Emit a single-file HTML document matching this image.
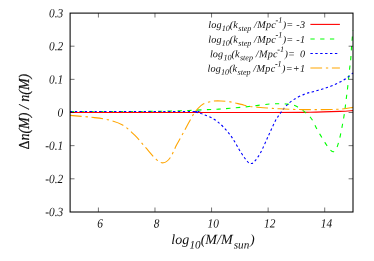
<!DOCTYPE html><html><head><meta charset="utf-8"><style>html,body{margin:0;padding:0;background:#fff}body{width:374px;height:261px;overflow:hidden;position:relative;font-family:"Liberation Serif",serif}</style></head><body><svg width="374" height="261" viewBox="0 0 374 261" style="position:absolute;left:0;top:0;will-change:transform">
<g fill="none" stroke-width="1.1" stroke-linejoin="round">
<path d="M70.00 112.45 C103.33 112.46 230.00 112.53 270.00 112.50 C310.00 112.47 298.33 112.48 310.00 112.30 C321.67 112.12 332.83 111.68 340.00 111.40 C347.17 111.12 350.83 110.73 353.00 110.60" stroke="#ff0000"/>
<path d="M70.00 111.55 C83.33 111.53 133.33 111.48 150.00 111.40 C166.67 111.33 163.50 111.25 170.00 111.10 C176.50 110.95 183.00 110.73 189.00 110.50 C195.00 110.27 201.33 109.92 206.00 109.70 C210.67 109.48 213.00 109.43 217.00 109.20 C221.00 108.97 224.67 108.75 230.00 108.30 C235.33 107.85 242.33 107.22 249.00 106.50 C255.67 105.78 263.83 104.42 270.00 104.00 C276.17 103.58 281.53 103.57 286.00 104.00 C290.47 104.43 292.80 104.47 296.80 106.60 C300.80 108.73 306.57 112.90 310.00 116.80 C313.43 120.70 314.90 125.70 317.40 130.00 C319.90 134.30 322.90 139.33 325.00 142.60 C327.10 145.87 328.67 148.08 330.00 149.60 C331.33 151.12 332.07 151.63 333.00 151.70 C333.93 151.77 334.83 151.02 335.60 150.00 C336.37 148.98 336.87 147.77 337.60 145.60 C338.33 143.43 339.20 140.43 340.00 137.00 C340.80 133.57 341.67 128.92 342.40 125.00 C343.13 121.08 343.78 117.67 344.40 113.50 C345.02 109.33 345.55 104.42 346.10 100.00 C346.65 95.58 347.10 92.33 347.70 87.00 C348.30 81.67 349.20 72.58 349.70 68.00 C350.20 63.42 350.42 62.67 350.70 59.50 C350.98 56.33 351.17 52.25 351.40 49.00 C351.63 45.75 351.87 43.08 352.10 40.00 C352.33 36.92 352.68 32.08 352.80 30.50" stroke="#00ff00" stroke-dasharray="4.3 5.47"/>
<path d="M70.00 111.55 C90.00 111.55 169.33 111.51 190.00 111.55 C210.67 111.59 191.73 111.31 194.00 111.80 C196.27 112.29 199.77 112.93 203.60 114.50 C207.43 116.07 212.53 117.75 217.00 121.20 C221.47 124.65 226.40 129.97 230.40 135.20 C234.40 140.43 238.08 148.13 241.00 152.60 C243.92 157.07 246.23 160.18 247.90 162.00 C249.57 163.82 249.98 163.50 251.00 163.50 C252.02 163.50 252.43 163.75 254.00 162.00 C255.57 160.25 257.98 157.40 260.40 153.00 C262.82 148.60 266.00 140.97 268.50 135.60 C271.00 130.23 273.37 124.60 275.40 120.80 C277.43 117.00 278.93 115.27 280.70 112.80 C282.47 110.33 283.78 108.23 286.00 106.00 C288.22 103.77 290.85 101.40 294.00 99.40 C297.15 97.40 301.90 95.23 304.90 94.00 C307.90 92.77 309.77 92.63 312.00 92.00 C314.23 91.37 316.13 90.83 318.30 90.20 C320.47 89.57 322.72 88.93 325.00 88.20 C327.28 87.47 329.50 86.83 332.00 85.80 C334.50 84.77 337.50 83.33 340.00 82.00 C342.50 80.67 344.83 79.30 347.00 77.80 C349.17 76.30 352.00 73.80 353.00 73.00" stroke="#0000ff" stroke-dasharray="2.4 2.5"/>
<path d="M70.00 115.40 C73.63 115.72 85.48 116.58 91.80 117.30 C98.12 118.02 102.77 118.42 107.90 119.70 C113.03 120.98 118.13 122.42 122.60 125.00 C127.07 127.58 130.90 131.48 134.70 135.20 C138.50 138.92 141.82 143.28 145.40 147.30 C148.98 151.32 153.20 156.72 156.20 159.30 C159.20 161.88 161.10 163.02 163.40 162.80 C165.70 162.58 167.77 161.03 170.00 158.00 C172.23 154.97 174.32 149.28 176.80 144.60 C179.28 139.92 182.22 134.82 184.90 129.90 C187.58 124.98 190.90 118.47 192.90 115.10 C194.90 111.73 195.12 111.58 196.90 109.70 C198.68 107.82 200.92 105.22 203.60 103.80 C206.28 102.38 210.10 101.67 213.00 101.20 C215.90 100.73 218.10 100.83 221.00 100.95 C223.90 101.07 227.03 101.33 230.40 101.90 C233.77 102.48 238.07 103.67 241.20 104.40 C244.33 105.13 246.00 105.78 249.20 106.30 C252.40 106.82 256.93 107.18 260.40 107.50 C263.87 107.82 266.87 107.98 270.00 108.20 C273.13 108.42 273.87 108.57 279.20 108.80 C284.53 109.03 292.37 109.52 302.00 109.60 C311.63 109.68 328.50 109.67 337.00 109.30 C345.50 108.93 350.33 107.72 353.00 107.40" stroke="#ffa500" stroke-dasharray="11.7 3.8 2.3 3.7"/>
</g>
<g fill="none" stroke-width="1.1">
<path d="M310.4 24.4H339.9" stroke="#ff0000"/>
<path d="M310.4 39.0H339.4" stroke="#00ff00" stroke-dasharray="4.3 5.47"/>
<path d="M310.4 53.5H339.4" stroke="#0000ff" stroke-dasharray="2.4 2.5"/>
<path d="M310.4 68.0H339.9" stroke="#ffa500" stroke-dasharray="11.7 3.8 2.3 3.7"/>
</g>
<g fill="none" stroke="#000" stroke-width="1.05">
<rect x="70.1" y="13.1" width="282.9" height="198.9"/>
<path d="M98.41 211.9v-4.4M98.41 13.1v4.4M154.98 211.9v-4.4M154.98 13.1v4.4M211.56 211.9v-4.4M211.56 13.1v4.4M268.14 211.9v-4.4M268.14 13.1v4.4M324.71 211.9v-4.4M324.71 13.1v4.4M70.1 178.80h4.4M353.0 178.80h-4.4M70.1 145.65h4.4M353.0 145.65h-4.4M70.1 112.50h4.4M353.0 112.50h-4.4M70.1 79.35h4.4M353.0 79.35h-4.4M70.1 46.20h4.4M353.0 46.20h-4.4" stroke-width="0.55"/>
</g>
<g font-family="Liberation Serif, serif" font-style="italic" fill="#111" font-size="12.6">
<text transform="translate(63.2,17.2) rotate(0.03) scale(0.905,1)" text-anchor="end">0.3</text>
<text transform="translate(63.2,50.3) rotate(0.03) scale(0.905,1)" text-anchor="end">0.2</text>
<text transform="translate(63.2,83.4) rotate(0.03) scale(0.905,1)" text-anchor="end">0.1</text>
<text transform="translate(63.2,116.6) rotate(0.03) scale(0.905,1)" text-anchor="end">0</text>
<text transform="translate(63.2,149.7) rotate(0.03) scale(0.905,1)" text-anchor="end">-0.1</text>
<text transform="translate(63.2,182.9) rotate(0.03) scale(0.905,1)" text-anchor="end">-0.2</text>
<text transform="translate(63.2,216.0) rotate(0.03) scale(0.905,1)" text-anchor="end">-0.3</text>
<text transform="translate(100.1,227.6) rotate(0.03) scale(0.905,1)" text-anchor="middle">6</text>
<text transform="translate(156.7,227.6) rotate(0.03) scale(0.905,1)" text-anchor="middle">8</text>
<text transform="translate(213.3,227.6) rotate(0.03) scale(0.905,1)" text-anchor="middle">10</text>
<text transform="translate(269.8,227.6) rotate(0.03) scale(0.905,1)" text-anchor="middle">12</text>
<text transform="translate(326.4,227.6) rotate(0.03) scale(0.905,1)" text-anchor="middle">14</text>
</g>
<g font-family="Liberation Serif, serif" font-style="italic" fill="#111" font-size="14">
<text transform="translate(171.3,243.9) rotate(0.03)">log<tspan font-size="11.2" dy="4.6" dx="0.3">10</tspan><tspan dy="-4.6">(M/M</tspan><tspan font-size="11.2" dy="4.6" dx="1.2">sun</tspan><tspan dy="-4.6" dx="0.8">)</tspan></text>
<text transform="translate(28.8,149.6) rotate(-90)" letter-spacing="0" stroke="#111" stroke-width="0.2"><tspan font-style="normal">Δ</tspan>n(M) / n(M)</text>
</g>
<g font-family="Liberation Serif, serif" font-style="italic" fill="#111" font-size="10.2">
<text transform="translate(305.25,28.1) rotate(0.03)" text-anchor="end" xml:space="preserve"><tspan letter-spacing="0.15">log</tspan><tspan font-size="8.2" dy="3" dx="0.1">10</tspan><tspan dy="-3" dx="-0.1">(k</tspan><tspan font-size="8.1" dy="3" dx="0.5">step</tspan><tspan dy="-3" dx="-0.1" letter-spacing="0.3"> /Mpc</tspan><tspan font-size="8.2" dy="-5.3" dx="-0.6">-1</tspan><tspan dy="5.3" dx="0.3" letter-spacing="0.25">)= -3</tspan></text>
<text transform="translate(305.25,42.7) rotate(0.03)" text-anchor="end" xml:space="preserve"><tspan letter-spacing="0.15">log</tspan><tspan font-size="8.2" dy="3" dx="0.1">10</tspan><tspan dy="-3" dx="-0.1">(k</tspan><tspan font-size="8.1" dy="3" dx="0.5">step</tspan><tspan dy="-3" dx="-0.1" letter-spacing="0.3"> /Mpc</tspan><tspan font-size="8.2" dy="-5.3" dx="-0.6">-1</tspan><tspan dy="5.3" dx="0.3" letter-spacing="0.25">)= -1</tspan></text>
<text transform="translate(305.25,57.2) rotate(0.03)" text-anchor="end" xml:space="preserve"><tspan letter-spacing="0.15">log</tspan><tspan font-size="8.2" dy="3" dx="0.1">10</tspan><tspan dy="-3" dx="-0.1">(k</tspan><tspan font-size="8.1" dy="3" dx="0.5">step</tspan><tspan dy="-3" dx="-0.1" letter-spacing="0.3"> /Mpc</tspan><tspan font-size="8.2" dy="-5.3" dx="-0.6">-1</tspan><tspan dy="5.3" dx="0.3" letter-spacing="0.25">)= <tspan dx="1.9">0</tspan></tspan></text>
<text transform="translate(305.25,71.8) rotate(0.03)" text-anchor="end" xml:space="preserve"><tspan letter-spacing="0.15">log</tspan><tspan font-size="8.2" dy="3" dx="0.1">10</tspan><tspan dy="-3" dx="-0.1">(k</tspan><tspan font-size="8.1" dy="3" dx="0.5">step</tspan><tspan dy="-3" dx="-0.1" letter-spacing="0.3"> /Mpc</tspan><tspan font-size="8.2" dy="-5.3" dx="-0.6">-1</tspan><tspan dy="5.3" dx="0.3" letter-spacing="0.25">)=+1</tspan></text>
</g>
</svg></body></html>
